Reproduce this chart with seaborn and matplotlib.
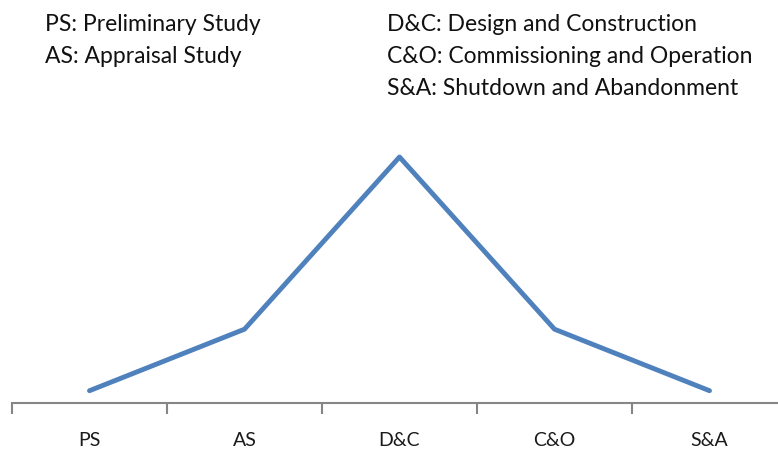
import matplotlib
matplotlib.use("Agg")
import matplotlib.pyplot as plt
import seaborn as sns
import pandas as pd
import numpy as np

phases = ["PS", "AS", "D&C", "C&O", "S&A"]
level = [0.5, 3, 10, 3, 0.5]
left_notes = ["PS: Preliminary Study", "AS: Appraisal Study"]
right_notes = ["D&C: Design and Construction",
               "C&O: Commissioning and Operation",
               "S&A: Shutdown and Abandonment"]

sns.set_style("white")
plt.rcParams['font.family'] = ['Lato', 'DejaVu Sans']

df = pd.DataFrame({"phase": phases, "level": level})

fig = plt.figure(figsize=(7.78, 4.5), dpi=100)
ax = fig.add_axes([12/778, 47/450, 775/778, 270/450])
sns.lineplot(data=df, x="phase", y="level", ax=ax, color="#4F81BD",
             linewidth=3.5, sort=False)
ax.set_xlim(-0.5, 4.5)
ax.set_ylim(0, 270/24.6)
ax.set_xlabel("")
ax.set_ylabel("")
ax.set_yticks([])
for s in ["top", "right", "left"]:
    ax.spines[s].set_visible(False)
ax.spines["bottom"].set_color("#868686")
ax.spines["bottom"].set_linewidth(1.5)
ax.set_xticks(range(len(phases)))
ax.set_xticklabels(phases, fontsize=14, color="#1a1a1a")
ax.tick_params(axis="x", which="major", length=0, pad=21)
ax.set_xticks(np.arange(-0.5, 5, 1), minor=True)
ax.tick_params(axis="x", which="minor", length=8, width=1.5, color="#868686",
               direction="out", bottom=True)

for i, t in enumerate(left_notes):
    fig.text(45/778, 1 - (31 + 32*i)/450, t, fontsize=16.5, color="#111111",
             va="baseline", ha="left")
for i, t in enumerate(right_notes):
    fig.text(387/778, 1 - (31 + 32*i)/450, t, fontsize=16.5, color="#111111",
             va="baseline", ha="left")

fig.savefig("out.png", dpi=100)
